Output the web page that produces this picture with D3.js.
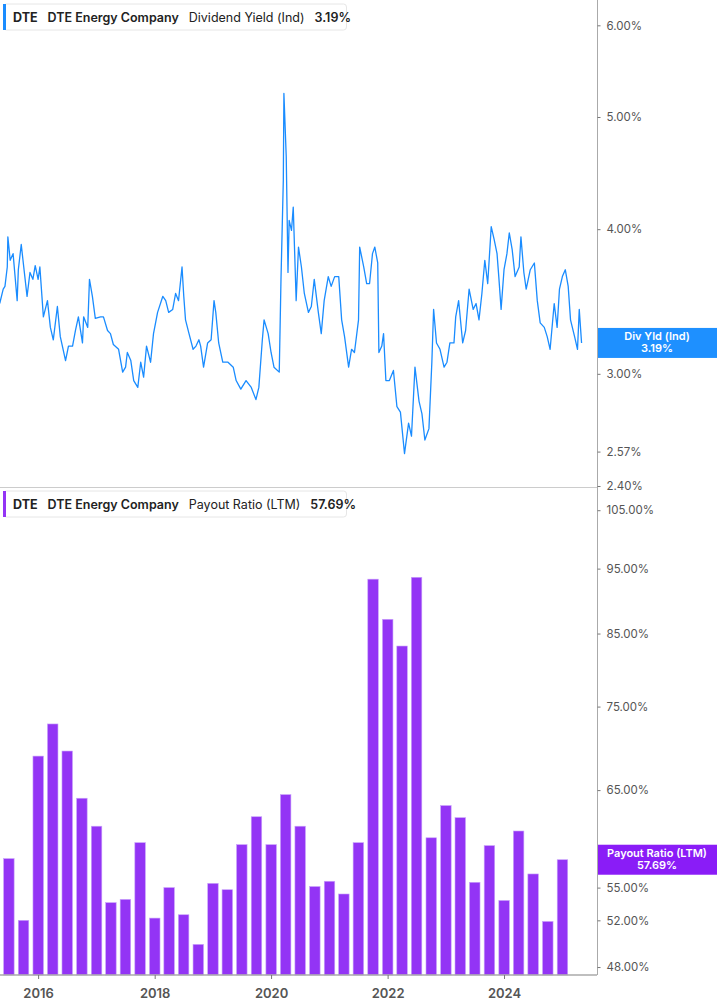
<!DOCTYPE html>
<html><head><meta charset="utf-8">
<script src="https://cdn.jsdelivr.net/npm/d3@7"></script>
<style>body{margin:0;background:#fff;font-family:Inter,"Noto Sans",sans-serif}</style>
</head><body><svg id="c" width="717" height="1005"></svg>
<script>
const yieldDates=[2015.34,2015.40,2015.43,2015.47,2015.48,2015.52,2015.57,2015.64,2015.66,2015.71,2015.74,2015.81,2015.86,2015.91,2015.95,2016.00,2016.03,2016.09,2016.16,2016.21,2016.26,2016.33,2016.38,2016.47,2016.52,2016.59,2016.64,2016.69,2016.76,2016.78,2016.85,2016.88,2016.93,2016.98,2017.07,2017.12,2017.19,2017.24,2017.29,2017.38,2017.45,2017.50,2017.53,2017.59,2017.64,2017.71,2017.76,2017.81,2017.86,2017.93,2017.98,2018.05,2018.14,2018.19,2018.24,2018.31,2018.36,2018.41,2018.47,2018.50,2018.53,2018.59,2018.66,2018.71,2018.76,2018.79,2018.84,2018.91,2018.97,2019.02,2019.05,2019.10,2019.17,2019.26,2019.35,2019.40,2019.48,2019.57,2019.66,2019.74,2019.79,2019.85,2019.88,2019.95,2020.00,2020.05,2020.14,2020.17,2020.21,2020.22,2020.26,2020.29,2020.31,2020.35,2020.38,2020.43,2020.47,2020.52,2020.57,2020.64,2020.69,2020.74,2020.81,2020.86,2020.91,2020.98,2021.03,2021.09,2021.16,2021.21,2021.26,2021.33,2021.38,2021.43,2021.50,2021.52,2021.59,2021.64,2021.69,2021.74,2021.78,2021.83,2021.85,2021.90,2021.93,2021.97,2022.03,2022.10,2022.16,2022.22,2022.29,2022.36,2022.41,2022.47,2022.54,2022.59,2022.64,2022.71,2022.76,2022.79,2022.84,2022.90,2022.97,2023.02,2023.07,2023.14,2023.17,2023.22,2023.29,2023.34,2023.40,2023.47,2023.52,2023.57,2023.62,2023.67,2023.72,2023.78,2023.83,2023.88,2023.91,2023.95,2024.00,2024.05,2024.09,2024.14,2024.19,2024.26,2024.29,2024.34,2024.38,2024.45,2024.52,2024.57,2024.62,2024.69,2024.74,2024.79,2024.86,2024.91,2024.95,2025.00,2025.05,2025.10,2025.14,2025.21,2025.26,2025.29,2025.33];
const yieldValues=[3.45,3.55,3.57,3.71,3.94,3.76,3.81,3.47,3.69,3.88,3.76,3.50,3.67,3.62,3.72,3.62,3.71,3.36,3.47,3.29,3.21,3.43,3.23,3.08,3.17,3.17,3.27,3.36,3.19,3.36,3.29,3.62,3.50,3.35,3.36,3.36,3.27,3.25,3.18,3.15,3.01,3.04,3.13,3.08,2.96,2.92,3.07,2.98,3.17,3.07,3.25,3.39,3.50,3.47,3.39,3.41,3.52,3.47,3.71,3.50,3.34,3.25,3.15,3.17,3.21,3.17,3.04,3.19,3.21,3.47,3.39,3.19,3.07,3.07,3.04,2.96,2.91,2.96,2.92,2.85,2.92,3.21,3.34,3.25,3.13,3.04,3.01,3.62,4.41,5.24,4.62,3.67,4.07,3.99,4.18,3.47,3.86,3.71,3.52,3.39,3.43,3.62,3.39,3.25,3.47,3.64,3.57,3.64,3.64,3.34,3.23,3.04,3.15,3.13,3.34,3.86,3.71,3.59,3.59,3.81,3.86,3.74,3.13,3.17,3.25,2.96,2.96,3.02,2.81,2.78,2.56,2.72,2.65,3.04,2.84,2.77,2.63,2.69,3.07,3.41,3.19,3.15,3.04,3.07,3.19,3.19,3.36,3.47,3.19,3.27,3.55,3.41,3.45,3.34,3.52,3.76,3.59,4.02,3.92,3.81,3.64,3.41,3.69,3.81,3.97,3.84,3.64,3.71,3.94,3.67,3.55,3.69,3.74,3.47,3.32,3.29,3.23,3.15,3.45,3.29,3.55,3.64,3.69,3.57,3.34,3.23,3.15,3.41,3.19];
const payoutQuarters=["2015-06-30","2015-09-30","2015-12-31","2016-03-31","2016-06-30","2016-09-30","2016-12-31","2017-03-31","2017-06-30","2017-09-30","2017-12-31","2018-03-31","2018-06-30","2018-09-30","2018-12-31","2019-03-31","2019-06-30","2019-09-30","2019-12-31","2020-03-31","2020-06-30","2020-09-30","2020-12-31","2021-03-31","2021-06-30","2021-09-30","2021-12-31","2022-03-31","2022-06-30","2022-09-30","2022-12-31","2023-03-31","2023-06-30","2023-09-30","2023-12-31","2024-03-31","2024-06-30","2024-09-30","2024-12-31"];
const payoutValues=[57.8,52.0,68.9,72.8,69.5,64.1,61.1,53.6,53.9,59.4,52.2,55.0,52.5,49.9,55.4,54.8,59.2,62.1,59.2,64.5,61.1,55.1,55.6,54.4,59.4,93.3,87.1,83.2,93.6,59.9,63.3,62.0,55.5,59.1,53.8,60.6,56.3,51.9,57.69];
const yieldTicks=[2.40,2.57,3.00,4.00,5.00,6.00];
const payoutTicks=[48,52,55,65,75,85,95,105];
const yearTicks=[2016,2018,2020,2022,2024];

const svg=d3.select("#c");
const toDate=y=>{const yr=Math.floor(y);const s=new Date(yr,0,1),e=new Date(yr+1,0,1);return new Date(+s+(y-yr)*(e-s));};
const x=d3.scaleTime().domain([toDate(2015.345),toDate(2025.595)]).range([0,597]);
const yTop=d3.scaleLog().domain([2.40,6.31]).range([486,0]);
const yBot=d3.scaleLog().domain([47.35,108.7]).range([975,490]);
const blue="#1a8cff",purple="#9334f5";

// separators and right axis line
svg.append("line").attr("x1",597.5).attr("x2",597.5).attr("y1",0).attr("y2",975).attr("stroke","#aaa");
svg.append("line").attr("x1",0).attr("x2",597).attr("y1",487.5).attr("y2",487.5).attr("stroke","#ccc");

function rAxis(scale,ticks,fmt){
  const g=svg.append("g").attr("transform","translate(597.5,0)")
   .call(d3.axisRight(scale).tickValues(ticks).tickFormat(fmt).tickSize(3).tickPadding(6));
  g.select(".domain").remove();
  g.selectAll("line").attr("stroke","#777");
  g.selectAll("text").attr("fill","#555").attr("font-size",11.5).attr("font-family","Inter,sans-serif");
}
rAxis(yTop,yieldTicks,d=>d.toFixed(2)+"%");
rAxis(yBot,payoutTicks,d=>d.toFixed(2)+"%");

// line
const pts=yieldDates.map((d,i)=>[toDate(d),yieldValues[i]]);
svg.append("path").datum(pts).attr("fill","none").attr("stroke",blue).attr("stroke-width",1.3).attr("stroke-linejoin","round")
  .attr("d",d3.line().x(d=>x(d[0])).y(d=>yTop(d[1])));

// bars
svg.append("g").selectAll("rect").data(payoutQuarters).join("rect")
  .attr("x",(d,i)=>x(new Date(d))-5).attr("width",10.5)
  .attr("y",(d,i)=>yBot(payoutValues[i])).attr("height",(d,i)=>975-yBot(payoutValues[i]))
  .attr("fill",purple).attr("stroke","#c9a2fb").attr("stroke-width",0.6);

// x axis
const xa=svg.append("g").attr("transform","translate(0,975)")
  .call(d3.axisBottom(x).tickValues(yearTicks.map(y=>new Date(y,0,1))).tickFormat(d3.timeFormat("%Y")).tickSize(4).tickPadding(10));
xa.select(".domain").attr("stroke","#aaa").attr("stroke-width",1.5).attr("d","M0,0H597");
xa.selectAll("line").attr("stroke","#777");
xa.selectAll("text").attr("fill","#555").attr("font-size",13).attr("font-weight",600).attr("font-family","Inter,sans-serif");

// legends
function legend(y,color,parts){
  const g=svg.append("g");
  g.append("rect").attr("x",3.5).attr("y",y).attr("width",343).attr("height",26).attr("rx",3).attr("fill","#fff").attr("stroke","#e6e6e6");
  g.append("rect").attr("x",3).attr("y",y).attr("width",3).attr("height",26).attr("fill",color);
  const t=g.append("text").attr("x",13).attr("y",y+17.5).attr("font-size",12.5).attr("fill","#222").attr("font-family","Inter,sans-serif");
  parts.forEach(([s,w,dx])=>t.append("tspan").attr("dx",dx).attr("font-weight",w).text(s));
}
legend(4,blue,[["DTE",700,0],["DTE Energy Company",600,10],["Dividend Yield (Ind)",400,10],["3.19%",600,10]]);
legend(491,purple,[["DTE",700,0],["DTE Energy Company",600,10],["Payout Ratio (LTM)",400,10],["57.69%",600,10]]);

// value labels
function tag(yc,color,l1,l2){
  svg.append("rect").attr("x",598).attr("y",yc-15).attr("width",119).attr("height",30).attr("fill",color);
  svg.append("text").attr("x",657).attr("y",yc-3).attr("text-anchor","middle").attr("fill","#fff").attr("font-size",11).attr("font-weight",600).attr("font-family","Inter,sans-serif").text(l1);
  svg.append("text").attr("x",657).attr("y",yc+9).attr("text-anchor","middle").attr("fill","#fff").attr("font-size",11).attr("font-weight",600).attr("font-family","Inter,sans-serif").text(l2);
}
tag(yTop(3.19),"#1e90ff","Div Yld (Ind)","3.19%");
tag(yBot(57.69),"#8a1cf7","Payout Ratio (LTM)","57.69%");
</script></body></html>
